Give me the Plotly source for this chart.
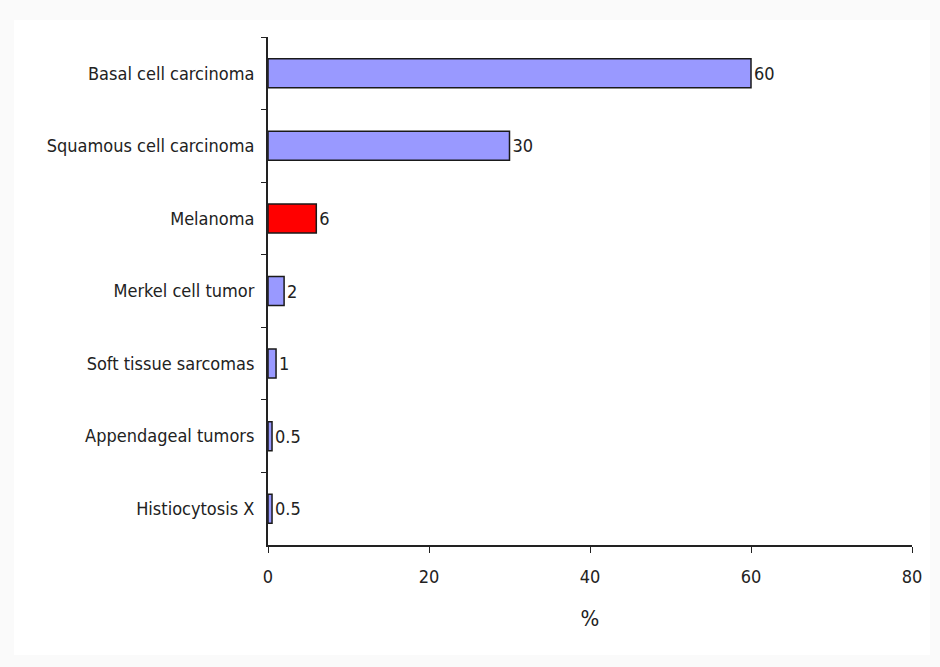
import plotly.graph_objects as go

categories = [
    "Basal cell carcinoma",
    "Squamous cell carcinoma",
    "Melanoma",
    "Merkel cell tumor",
    "Soft tissue sarcomas",
    "Appendageal tumors",
    "Histiocytosis X",
]
values = [60, 30, 6, 2, 1, 0.5, 0.5]
value_labels = ["60", "30", "6", "2", "1", "0.5", "0.5"]
x_ticks = [0, 20, 40, 60, 80]

bar_colors = ["#ff0000" if c == "Melanoma" else "#9999ff" for c in categories]

font_family = "DejaVu Sans Condensed, DejaVu Sans, sans-serif"
font_size = 18

fig = go.Figure(
    go.Bar(
        x=values,
        y=categories,
        orientation="h",
        marker=dict(color=bar_colors, line=dict(color="#1a1a1a", width=1.5)),
        width=0.4,
        text=value_labels,
        textposition="outside",
        cliponaxis=False,
        textfont=dict(family=font_family, size=font_size, color="#222222"),
    )
)

fig.update_layout(
    width=940,
    height=667,
    margin=dict(l=268, r=28, t=37, b=122),
    paper_bgcolor="#fafafa",
    plot_bgcolor="white",
    showlegend=False,
    font=dict(family=font_family, size=font_size, color="#222222"),
    shapes=[
        dict(
            type="rect", xref="paper", yref="paper",
            x0=-254 / 644, x1=1 + 18 / 644, y0=-110 / 508, y1=1 + 17 / 508,
            fillcolor="white", line=dict(width=0), layer="below",
        )
    ],
)

fig.update_xaxes(
    range=[0, 80],
    tickvals=x_ticks,
    ticks="outside",
    ticklen=6,
    tickcolor="#222222",
    showline=True,
    linecolor="#222222",
    linewidth=2,
    showgrid=False,
    zeroline=False,
    ticklabelstandoff=8,
    title=dict(text="%", standoff=25),
)

fig.update_yaxes(
    categoryorder="array",
    categoryarray=categories,
    autorange="reversed",
    ticks="outside",
    tickson="boundaries",
    ticklen=5,
    tickcolor="#222222",
    showline=True,
    linecolor="#222222",
    linewidth=2,
    showgrid=False,
    zeroline=False,
    ticklabelstandoff=8,
)

fig.write_html("out.html")
